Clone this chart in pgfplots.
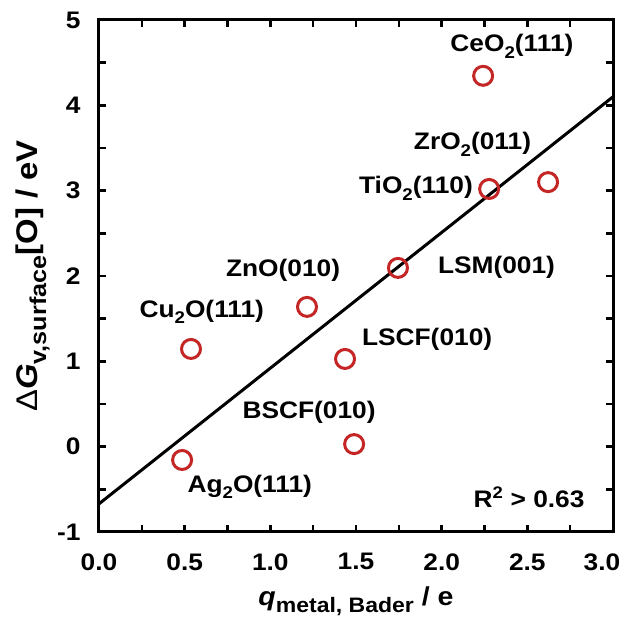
\documentclass[border=0pt]{standalone}
\usepackage{fontspec}
\setmainfont{Liberation Sans}[FakeStretch=1.1]
\usepackage{pgfplots}
\pgfplotsset{compat=1.18}
\definecolor{mred}{RGB}{196,38,38}
\newcommand{\bigf}{\fontsize{24}{28}\selectfont\bfseries}
\newcommand{\labf}{\fontsize{26}{30}\selectfont\bfseries}
\newcommand{\ylabf}{\fontsize{30}{34}\selectfont\bfseries}
\newcommand{\sub}[1]{\raisebox{-0.28em}{\fontsize{17}{18}\selectfont #1}}
\newcommand{\lsub}[1]{\raisebox{-0.28em}{\fontsize{21}{22}\selectfont #1}}
\newcommand{\ysub}[1]{\raisebox{-0.28em}{\fontsize{23}{24}\selectfont #1}}
\begin{document}
\begin{tikzpicture}
\begin{axis}[
  scale only axis,
  width=514bp, height=512bp,
  xmin=0, xmax=3, ymin=-1, ymax=5,
  xtick={0,0.5,1,1.5,2,2.5,3}, ytick={-1,0,...,5},
  xticklabels={0.0,0.5,1.0,1.5,2.0,2.5,\hspace{-22bp}3.0},
  minor tick num=1,
  tick align=inside,
  major tick length=7bp, minor tick length=7bp,
  every tick/.style={line width=2.5bp, black},
  axis line style={line width=3bp},
  clip=false,
  /pgf/number format/assume math mode=true,
  tick label style={font=\bigf},
  xticklabel style={yshift=-18bp},
  yticklabel style={/pgf/number format/fixed, /pgf/number format/precision=0, xshift=-15bp},
  xlabel={\textit{q}\lsub{metal, Bader} / e},
  ylabel={{\mdseries Δ}\textit{G}\ysub{v,surface}[O] / eV},
  xlabel style={font=\labf, at={(axis description cs:0.5,0)}, anchor=center, yshift=-69bp},
  ylabel style={font=\ylabf, at={(axis description cs:0,0.5)}, anchor=center, yshift=66bp},
]
\addplot[black, line width=3bp] coordinates {(0,-0.67) (3,4.10)};
\addplot[only marks, mark=o, mark size=9.5bp, mark options={mred, line width=3bp}] coordinates {
(0.485,-0.156)
(0.537,1.145)
(1.214,1.638)
(1.436,1.028)
(1.489,0.03)
(1.745,2.095)
(2.242,4.346)
(2.277,3.02)
(2.621,3.10)
};
\node[font=\bigf] at (axis cs:2.41,4.69) {CeO\sub{2}(111)};
\node[font=\bigf] at (axis cs:2.18,3.54) {ZrO\sub{2}(011)};
\node[font=\bigf] at (axis cs:1.85,3.03) {TiO\sub{2}(110)};
\node[font=\bigf] at (axis cs:2.32,2.10) {LSM(001)};
\node[font=\bigf] at (axis cs:1.074,2.07) {ZnO(010)};
\node[font=\bigf] at (axis cs:0.60,1.58) {Cu\sub{2}O(111)};
\node[font=\bigf] at (axis cs:1.915,1.26) {LSCF(010)};
\node[font=\bigf] at (axis cs:1.226,0.407) {BSCF(010)};
\node[font=\bigf] at (axis cs:0.88,-0.47) {Ag\sub{2}O(111)};
\node[font=\bigf] at (axis cs:2.51,-0.59) {R\textsuperscript{2} > 0.63};
\end{axis}
\pgfresetboundingbox
\path (current axis.south west) ++(-99bp,-93bp) coordinate (a);
\path (current axis.north east) ++(12bp,20bp) coordinate (b);
\path (a) rectangle (b);
\end{tikzpicture}
\end{document}
